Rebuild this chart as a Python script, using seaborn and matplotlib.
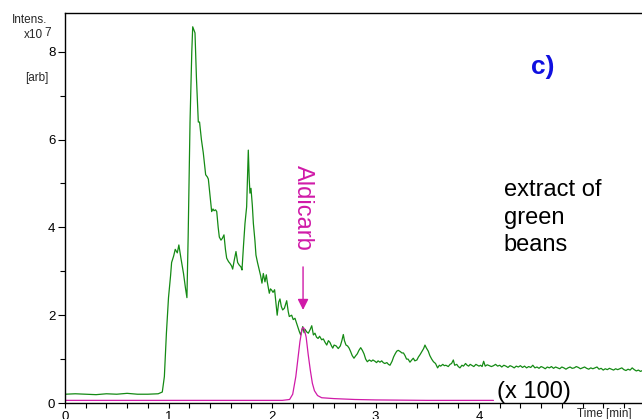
import pandas as pd
import matplotlib
matplotlib.use("Agg")
import matplotlib.pyplot as plt
import seaborn as sns

# === data (time in min, intensity in 1e7 arb) ===
green_points = [
    (0.00, 0.20), (0.10, 0.21), (0.20, 0.20), (0.30, 0.19), (0.40, 0.21), (0.50, 0.20),
    (0.60, 0.22), (0.70, 0.20), (0.80, 0.20), (0.90, 0.21), (0.94, 0.25), (0.96, 0.60),
    (0.98, 1.60), (1.00, 2.40), (1.02, 2.90), (1.03, 3.20), (1.05, 3.35), (1.065, 3.50),
    (1.085, 3.42), (1.10, 3.60), (1.12, 3.30), (1.145, 2.95), (1.165, 2.60), (1.178, 2.40),
    (1.19, 3.80), (1.208, 6.40), (1.225, 8.00), (1.234, 8.57), (1.245, 8.50), (1.256, 8.43),
    (1.27, 7.40), (1.288, 6.40), (1.30, 6.40), (1.318, 6.00), (1.336, 5.70), (1.359, 5.20),
    (1.375, 5.15), (1.385, 5.10), (1.40, 4.75), (1.417, 4.36), (1.43, 4.42), (1.44, 4.38),
    (1.455, 4.40), (1.466, 4.36), (1.48, 4.00), (1.491, 3.78), (1.507, 3.71), (1.52, 3.75),
    (1.536, 3.83), (1.55, 3.50), (1.562, 3.30), (1.58, 3.22), (1.594, 3.18), (1.61, 3.12),
    (1.62, 3.05), (1.635, 3.25), (1.652, 3.45), (1.668, 3.20), (1.684, 3.14), (1.70, 3.10),
    (1.71, 3.03), (1.725, 3.60), (1.739, 4.09), (1.755, 4.47), (1.771, 5.76), (1.78, 5.10),
    (1.787, 4.78), (1.797, 4.89), (1.81, 4.50), (1.82, 4.09), (1.835, 3.70), (1.845, 3.37),
    (1.86, 3.20), (1.877, 3.03), (1.89, 2.90), (1.903, 2.73), (1.916, 2.95), (1.932, 2.76),
    (1.945, 2.92), (1.955, 2.75), (1.974, 2.50), (1.985, 2.60), (1.997, 2.57), (2.01, 2.52),
    (2.025, 2.58), (2.05, 2.00), (2.065, 2.30), (2.077, 2.37), (2.09, 2.20), (2.103, 2.12),
    (2.12, 2.16), (2.142, 2.33), (2.157, 2.08), (2.167, 1.97), (2.19, 2.00), (2.205, 1.90),
    (2.222, 1.93), (2.24, 1.80), (2.254, 1.70), (2.265, 1.62), (2.277, 1.55), (2.297, 1.74),
    (2.31, 1.60), (2.319, 1.68), (2.335, 1.62), (2.351, 1.59), (2.37, 1.68), (2.384, 1.76),
    (2.40, 1.55), (2.415, 1.59), (2.43, 1.50), (2.445, 1.47), (2.46, 1.52), (2.48, 1.44),
    (2.496, 1.46), (2.513, 1.38), (2.529, 1.32), (2.545, 1.42), (2.56, 1.38), (2.575, 1.30),
    (2.587, 1.25), (2.60, 1.32), (2.62, 1.30), (2.64, 1.24), (2.66, 1.30), (2.675, 1.42),
    (2.689, 1.56), (2.70, 1.42), (2.715, 1.32), (2.73, 1.30), (2.745, 1.25), (2.76, 1.17),
    (2.775, 1.08), (2.792, 1.02), (2.81, 1.08), (2.824, 1.12), (2.84, 1.20), (2.857, 1.26),
    (2.873, 1.20), (2.889, 1.12), (2.905, 1.00), (2.921, 0.94), (2.94, 0.98), (2.96, 0.95),
    (2.975, 0.98), (2.995, 0.95), (3.01, 0.92), (3.025, 0.96), (3.043, 0.93), (3.06, 0.96),
    (3.075, 0.92), (3.09, 0.90), (3.11, 0.92), (3.125, 0.88), (3.14, 0.86), (3.16, 0.95),
    (3.175, 1.05), (3.19, 1.12), (3.205, 1.18), (3.22, 1.20), (3.24, 1.17), (3.255, 1.14),
    (3.27, 1.14), (3.285, 1.08), (3.30, 1.00), (3.315, 1.00), (3.333, 0.93), (3.35, 0.98),
    (3.365, 1.02), (3.38, 0.96), (3.40, 0.98), (3.415, 1.05), (3.43, 1.10), (3.45, 1.18),
    (3.465, 1.24), (3.478, 1.32), (3.49, 1.26), (3.51, 1.18), (3.525, 1.08), (3.543, 1.00),
    (3.56, 0.94), (3.58, 0.90), (3.60, 0.80), (3.617, 0.86), (3.63, 0.84), (3.65, 0.88),
    (3.665, 0.85), (3.68, 0.86), (3.703, 0.83), (3.72, 0.88), (3.735, 0.90), (3.752, 0.98),
    (3.765, 0.86), (3.785, 0.88), (3.80, 0.83), (3.816, 0.80), (3.835, 0.86), (3.85, 0.84),
    (3.87, 0.90), (3.885, 0.86), (3.90, 0.84), (3.915, 0.88), (3.935, 0.85), (3.95, 0.83),
    (3.97, 0.88), (3.985, 0.86), (4.00, 0.84), (4.015, 0.86), (4.03, 0.83), (4.045, 0.95),
    (4.06, 0.84), (4.08, 0.87), (4.10, 0.85), (4.12, 0.83), (4.14, 0.85), (4.16, 0.88),
    (4.18, 0.84), (4.20, 0.86), (4.22, 0.82), (4.24, 0.86), (4.26, 0.84), (4.28, 0.81),
    (4.30, 0.85), (4.32, 0.83), (4.34, 0.80), (4.36, 0.84), (4.38, 0.82), (4.40, 0.85),
    (4.42, 0.81), (4.44, 0.84), (4.46, 0.80), (4.48, 0.83), (4.50, 0.81), (4.52, 0.86),
    (4.54, 0.80), (4.56, 0.82), (4.58, 0.79), (4.60, 0.83), (4.62, 0.81), (4.64, 0.78),
    (4.66, 0.82), (4.68, 0.80), (4.70, 0.83), (4.72, 0.79), (4.74, 0.82), (4.76, 0.80),
    (4.78, 0.78), (4.80, 0.82), (4.82, 0.80), (4.84, 0.77), (4.86, 0.80), (4.88, 0.82),
    (4.90, 0.79), (4.92, 0.80), (4.94, 0.83), (4.96, 0.81), (4.98, 0.78), (5.00, 0.80),
    (5.02, 0.82), (5.04, 0.79), (5.06, 0.77), (5.08, 0.80), (5.10, 0.78), (5.12, 0.80),
    (5.14, 0.82), (5.16, 0.77), (5.18, 0.79), (5.20, 0.75), (5.22, 0.78), (5.24, 0.76),
    (5.26, 0.79), (5.28, 0.77), (5.30, 0.75), (5.32, 0.78), (5.34, 0.76), (5.36, 0.78),
    (5.38, 0.80), (5.40, 0.76), (5.42, 0.74), (5.44, 0.77), (5.46, 0.75), (5.48, 0.80),
    (5.50, 0.76), (5.52, 0.73), (5.54, 0.75), (5.56, 0.72), (5.58, 0.74),
]

# Aldicarb trace (shown x 100)
magenta_points = [
    (0.00, 0.06), (2.10, 0.06), (2.17, 0.08), (2.20, 0.20), (2.23, 0.60), (2.25, 1.00),
    (2.27, 1.40), (2.29, 1.68), (2.30, 1.72), (2.31, 1.70), (2.33, 1.50), (2.35, 1.10),
    (2.37, 0.75), (2.39, 0.45), (2.41, 0.28), (2.44, 0.17), (2.48, 0.12), (2.60, 0.10),
    (2.80, 0.08), (3.00, 0.07), (3.50, 0.06), (4.14, 0.06),
]

x_tick_pos = [0, 1, 2, 3, 4, 5]
x_tick_labels = ["0", "1", "2", "3", "4", ""]
y_tick_pos = [0, 2, 4, 6, 8]
y_tick_labels = ["0", "2", "4", "6", "8"]

green_df = pd.DataFrame(green_points, columns=["time", "intensity"])
magenta_df = pd.DataFrame(magenta_points, columns=["time", "intensity"])

sns.set_style("ticks")
plt.rcParams["font.family"] = ["Liberation Sans", "DejaVu Sans"]

GREEN = "#148a14"
MAGENTA = "#d01aa8"

fig = plt.figure(figsize=(6.42, 4.19), dpi=100)
ax = fig.add_axes([65 / 642, 16 / 419, 577 / 642, 390 / 419])

sns.lineplot(data=green_df, x="time", y="intensity", ax=ax, color=GREEN,
             linewidth=0.9, sort=False, estimator=None)
sns.lineplot(data=magenta_df, x="time", y="intensity", ax=ax, color=MAGENTA,
             linewidth=0.9, sort=False, estimator=None)

ax.set_xlim(0, 577 / 103.5)
ax.set_ylim(0, 390 / 43.9)
ax.set_xlabel("")
ax.set_ylabel("")

ax.set_xticks(x_tick_pos)
ax.set_xticklabels(x_tick_labels)
ax.set_xticks([i * 0.2 for i in range(28)], minor=True)
ax.set_yticks(y_tick_pos)
ax.set_yticklabels(y_tick_labels)
ax.set_yticks([1, 3, 5, 7], minor=True)
ax.tick_params(which="both", direction="out", length=3.5, width=0.8,
               labelsize=9.5, pad=2, colors="black")
ax.tick_params(axis="y", which="major", length=5)

for side in ["left", "bottom", "top"]:
    ax.spines[side].set_visible(True)
    ax.spines[side].set_linewidth(1.0)
    ax.spines[side].set_color("black")
ax.spines["right"].set_visible(False)

# annotations
ax.annotate("", xy=(2.30, 2.12), xytext=(2.30, 3.10),
            arrowprops=dict(arrowstyle="-|>", color=MAGENTA, lw=1.0,
                            mutation_scale=16, shrinkA=0, shrinkB=0))
ax.text(2.30, 4.44, "Aldicarb", rotation=-90, color=MAGENTA, fontsize=17,
        ha="center", va="center")
ax.text(4.24, 4.22, "extract of\ngreen\nbeans", fontsize=17, color="black",
        ha="left", va="center", linespacing=1.32)
ax.text(4.62, 7.65, "c)", fontsize=19, color="#1010e0", fontweight="bold",
        ha="center", va="center")
ax.text(4.17, 0.26, "(x 100)", fontsize=17, color="black", ha="left", va="center")

# axis labels as in the instrument printout
fig.text(47 / 642, 1 - 20 / 419, "Intens.", fontsize=8.5, ha="right", va="center")
fig.text(43 / 642, 1 - 35.5 / 419, "x10", fontsize=8.5, ha="right", va="center")
fig.text(44 / 642, 1 - 33 / 419, "7", fontsize=8.5, ha="left", va="center")
fig.text(49 / 642, 1 - 78 / 419, "[arb]", fontsize=8.5, ha="right", va="center")
fig.text(632 / 642, 1 - 414 / 419, "Time [min]", fontsize=8.5, ha="right", va="center")

fig.savefig("out.png", dpi=100)
